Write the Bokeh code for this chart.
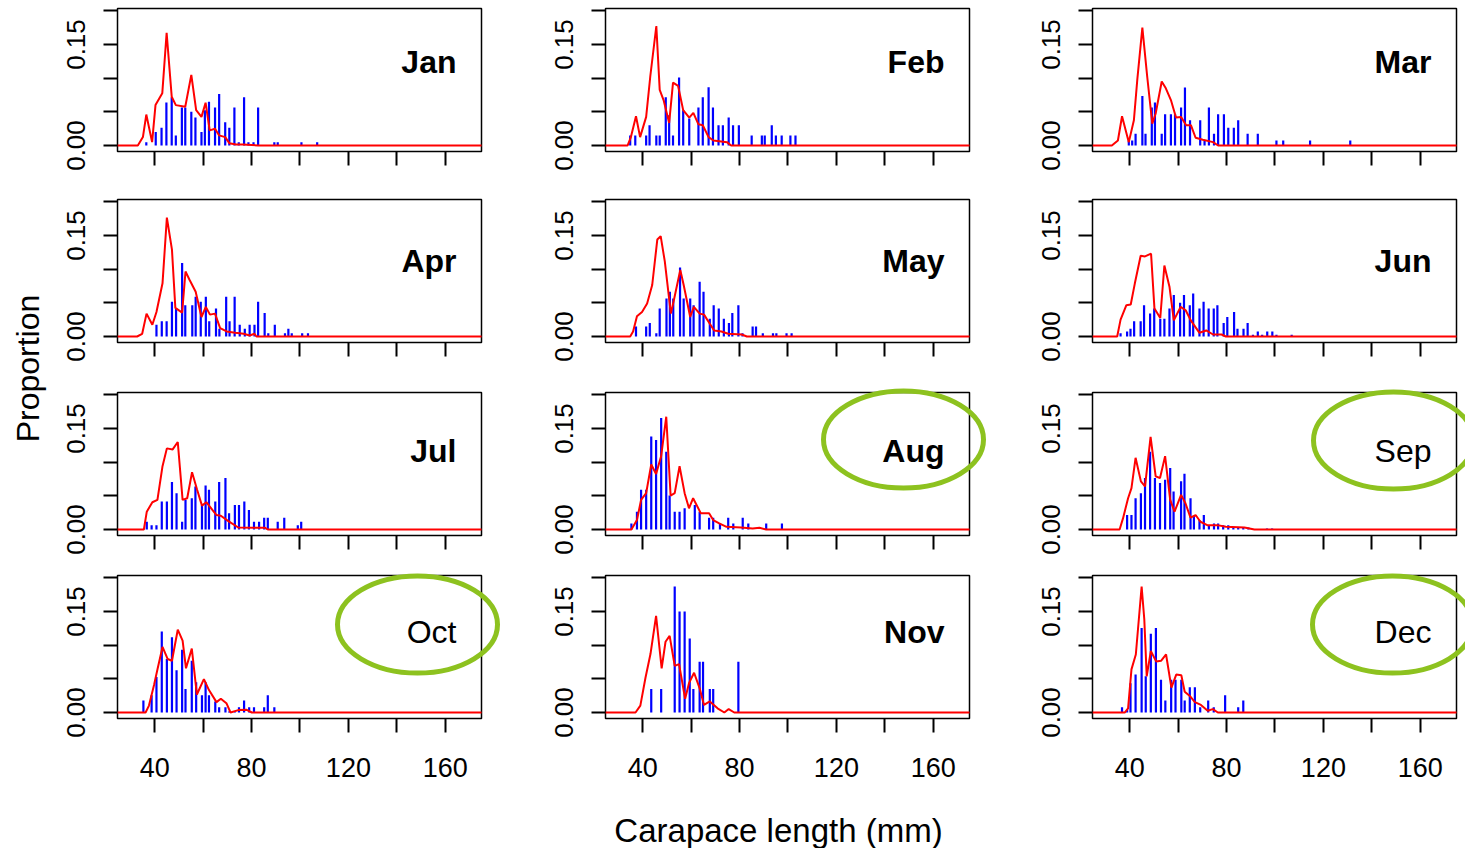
import math
from bokeh.plotting import figure
from bokeh.layouts import row, column
from bokeh.models import Range1d, FixedTicker, Label, PrintfTickFormatter, GridBox
from bokeh.embed import file_html
from bokeh.resources import INLINE

# ---------------- data ----------------
months = ["Jan", "Feb", "Mar", "Apr", "May", "Jun",
          "Jul", "Aug", "Sep", "Oct", "Nov", "Dec"]
x_ticks = [40, 80, 120, 160]
x_minor_ticks = [60, 100, 140]
y_ticks = [0.0, 0.15]
y_minor_ticks = [0.05, 0.10, 0.20]

# highlight ellipses (page position of centre, in pixels)
highlight_months = ["Aug", "Sep", "Oct", "Dec"]
highlight_cx = [903, 1393, 417, 1392]
highlight_cy = [439, 440, 624, 624]

jan_bar_x = [36.5, 40.4, 42.8, 44.8, 47.0, 48.7, 51.2, 52.6, 55.1, 56.8, 59.3, 60.7, 62.4, 64.9, 66.6, 69.1, 70.8, 72.9, 74.7, 76.9, 78.7, 80.8, 82.7, 89.4, 90.8, 100.6, 107.1]
jan_bar_y = [0.005, 0.020, 0.0265, 0.064, 0.0715, 0.015, 0.0565, 0.0565, 0.050, 0.0415, 0.020, 0.0525, 0.065, 0.0565, 0.0765, 0.0345, 0.0265, 0.0565, 0.005, 0.0715, 0.005, 0.005, 0.0565, 0.005, 0.005, 0.005, 0.005]
jan_line_x = [20, 33.0, 35.1, 36.5, 38.9, 40.3, 43.1, 44.9, 47.0, 48.7, 52.6, 55.1, 57.1, 59.3, 61.0, 62.7, 64.9, 66.6, 69.1, 70.8, 73.6, 76.4, 82.7, 180]
jan_line_y = [0, 0, 0.0125, 0.046, 0.005, 0.060, 0.0775, 0.1675, 0.0725, 0.060, 0.0575, 0.105, 0.0525, 0.0425, 0.0635, 0.0225, 0.025, 0.015, 0.0125, 0.0035, 0.0015, 0.0015, 0, 0]

feb_bar_x = [34.8, 36.9, 41.4, 42.8, 45.6, 47.0, 49.5, 50.9, 52.5, 55.0, 56.7, 59.2, 63.0, 64.8, 67.2, 69.0, 71.3, 73.1, 75.5, 77.3, 79.7, 85.0, 89.2, 90.4, 93.3, 95.0, 97.4, 101.0, 103.1]
feb_bar_y = [0.015, 0.015, 0.015, 0.030, 0.015, 0.015, 0.0715, 0.045, 0.015, 0.101, 0.0525, 0.040, 0.0565, 0.0715, 0.0865, 0.0565, 0.030, 0.030, 0.0415, 0.030, 0.030, 0.015, 0.015, 0.015, 0.030, 0.015, 0.015, 0.015, 0.015]
feb_line_x = [20, 33.7, 35.1, 37.2, 38.9, 41.4, 43.1, 45.6, 47.0, 48.6, 50.9, 52.5, 54.6, 56.7, 59.2, 60.9, 63.0, 64.8, 67.2, 69.2, 74.8, 76.5, 180]
feb_line_y = [0, 0, 0.0125, 0.0435, 0.0125, 0.0425, 0.1025, 0.1775, 0.0825, 0.0675, 0.0335, 0.0935, 0.0885, 0.0525, 0.0415, 0.0485, 0.0315, 0.030, 0.0125, 0.0075, 0.005, 0, 0]

mar_bar_x = [39.6, 41.0, 42.4, 45.2, 46.5, 49.1, 50.4, 53.2, 54.6, 57.0, 58.7, 61.2, 62.8, 64.9, 69.1, 70.9, 72.7, 74.8, 76.5, 78.9, 80.7, 83.0, 84.8, 88.7, 92.9, 100.6, 103.4, 114.5, 131.1]
mar_bar_y = [0.0075, 0.0075, 0.0175, 0.0735, 0.0175, 0.0565, 0.064, 0.0175, 0.0465, 0.0465, 0.0465, 0.0565, 0.086, 0.0375, 0.0375, 0.0075, 0.0565, 0.0175, 0.0465, 0.0465, 0.0265, 0.0265, 0.0375, 0.0175, 0.0175, 0.0075, 0.0075, 0.0075, 0.0075]
mar_line_x = [20, 32.6, 35.1, 36.8, 39.6, 41.7, 43.1, 45.2, 47.2, 49.3, 50.7, 53.2, 54.9, 57.0, 59.1, 61.2, 63.3, 65.3, 67.2, 70.2, 74.4, 76.5, 180]
mar_line_y = [0, 0, 0.0075, 0.0435, 0.005, 0.0375, 0.0975, 0.175, 0.1025, 0.0325, 0.0475, 0.095, 0.085, 0.0675, 0.0415, 0.0425, 0.030, 0.030, 0.0115, 0.0085, 0.005, 0, 0]

apr_bar_x = [40.7, 42.9, 44.9, 47.1, 48.8, 51.3, 52.6, 55.5, 56.9, 59.0, 61.1, 62.5, 65.3, 66.7, 69.5, 70.9, 73.0, 75.1, 77.2, 79.2, 81.2, 82.7, 85.4, 86.9, 89.6, 93.8, 95.2, 96.6, 100.9, 103.3]
apr_bar_y = [0.0175, 0.0225, 0.0225, 0.0515, 0.0415, 0.109, 0.0465, 0.0465, 0.059, 0.0515, 0.059, 0.0225, 0.0415, 0.0115, 0.059, 0.0225, 0.059, 0.0175, 0.0115, 0.0175, 0.0175, 0.0515, 0.035, 0.005, 0.0175, 0.005, 0.0115, 0.005, 0.005, 0.005]
apr_line_x = [20, 32.7, 34.8, 36.6, 39.0, 40.7, 43.2, 45.0, 47.1, 48.5, 51.3, 52.7, 54.4, 56.9, 59.3, 61.1, 62.8, 64.9, 67.0, 69.7, 73.2, 76.7, 79.2, 81.2, 82.0, 180]
apr_line_y = [0, 0, 0.004, 0.034, 0.0175, 0.0365, 0.079, 0.1765, 0.129, 0.0425, 0.0355, 0.0965, 0.084, 0.0665, 0.029, 0.044, 0.0325, 0.034, 0.0125, 0.0075, 0.0055, 0.004, 0.0015, 0.004, 0, 0]

may_bar_x = [37.2, 41.4, 42.9, 45.6, 47.0, 49.8, 51.2, 52.6, 55.4, 56.9, 59.6, 61.0, 63.5, 65.1, 67.7, 69.3, 71.4, 73.5, 75.6, 77.0, 79.5, 81.2, 85.4, 86.8, 89.6, 93.8, 95.2, 99.4, 101.5]
may_bar_y = [0.015, 0.015, 0.020, 0.005, 0.0415, 0.0565, 0.0665, 0.0565, 0.1025, 0.0565, 0.0565, 0.0465, 0.0815, 0.0665, 0.0265, 0.0465, 0.0415, 0.0265, 0.020, 0.035, 0.0465, 0.005, 0.015, 0.015, 0.005, 0.005, 0.005, 0.005, 0.005]
may_line_x = [20, 34.8, 36.0, 37.6, 39.7, 41.8, 43.9, 46.0, 47.4, 49.1, 51.6, 53.0, 55.5, 56.9, 59.6, 61.1, 63.5, 65.3, 67.7, 69.5, 72.5, 75.3, 80.9, 83.0, 180]
may_line_y = [0, 0, 0.0075, 0.030, 0.0365, 0.049, 0.0765, 0.144, 0.149, 0.1115, 0.034, 0.0565, 0.099, 0.0765, 0.029, 0.044, 0.034, 0.0325, 0.019, 0.009, 0.0075, 0.004, 0.003, 0, 0]

jun_bar_x = [36.2, 38.9, 40.3, 41.8, 44.5, 45.9, 48.4, 50.1, 52.6, 54.3, 56.4, 58.2, 60.8, 62.4, 64.8, 66.2, 68.8, 70.5, 72.6, 74.7, 76.2, 78.8, 80.3, 83.1, 84.5, 87.0, 88.7, 90.9, 92.9, 94.7, 96.8, 98.9, 100.6, 106.9]
jun_bar_y = [0.005, 0.0075, 0.0115, 0.0225, 0.0225, 0.0465, 0.034, 0.0415, 0.0265, 0.0265, 0.0415, 0.0615, 0.050, 0.0615, 0.0465, 0.064, 0.0415, 0.0515, 0.0415, 0.0415, 0.0465, 0.020, 0.029, 0.0365, 0.0115, 0.0115, 0.020, 0.0025, 0.0075, 0.0025, 0.0075, 0.0075, 0.0025, 0.0025]
jun_line_x = [20, 34.8, 36.2, 38.6, 40.4, 42.1, 44.5, 46.3, 48.8, 50.2, 52.6, 54.3, 56.4, 58.2, 61.0, 63.1, 65.2, 68.8, 71.6, 74.4, 77.9, 79.7, 180]
jun_line_y = [0, 0, 0.025, 0.0465, 0.0475, 0.079, 0.120, 0.119, 0.123, 0.0415, 0.0275, 0.1055, 0.074, 0.024, 0.044, 0.039, 0.024, 0.0055, 0.009, 0.003, 0.003, 0, 0]

jul_bar_x = [36.7, 38.7, 40.7, 42.9, 45.0, 47.1, 49.0, 51.3, 52.7, 55.3, 56.8, 59.5, 61.0, 62.4, 65.0, 66.6, 69.2, 70.7, 73.1, 74.8, 77.0, 78.9, 81.0, 83.1, 85.2, 86.7, 90.8, 93.5, 99.1, 100.5]
jul_bar_y = [0.0115, 0.0065, 0.0065, 0.0415, 0.0415, 0.0705, 0.054, 0.0115, 0.044, 0.0465, 0.064, 0.0365, 0.0655, 0.059, 0.0415, 0.0705, 0.0765, 0.024, 0.0365, 0.0365, 0.0415, 0.029, 0.0115, 0.0115, 0.0175, 0.0175, 0.0115, 0.0175, 0.0065, 0.0115]
jul_line_x = [20, 35.5, 36.7, 39.0, 41.1, 43.2, 45.0, 47.4, 49.5, 51.5, 53.4, 55.4, 57.5, 59.5, 61.3, 65.5, 67.3, 70.4, 74.5, 85.6, 86.7, 180]
jul_line_y = [0, 0, 0.0265, 0.0405, 0.044, 0.094, 0.1205, 0.119, 0.130, 0.044, 0.0465, 0.085, 0.059, 0.0355, 0.0405, 0.0215, 0.0205, 0.0125, 0.003, 0.0025, 0, 0]

aug_bar_x = [35.3, 37.6, 39.3, 41.4, 43.5, 45.5, 47.6, 49.7, 51.1, 53.2, 55.2, 57.3, 61.5, 63.5, 67.4, 69.1, 71.9, 75.3, 77.4, 81.3, 83.6, 91.0, 97.5]
aug_bar_y = [0.009, 0.0265, 0.059, 0.059, 0.138, 0.133, 0.1655, 0.1155, 0.0505, 0.0265, 0.0265, 0.0315, 0.0365, 0.0265, 0.0175, 0.0175, 0.009, 0.0175, 0.009, 0.0175, 0.009, 0.009, 0.009]
aug_line_x = [20, 35.3, 37.6, 39.3, 41.4, 43.5, 45.5, 47.6, 49.7, 51.5, 53.2, 55.2, 57.3, 59.1, 60.8, 64.0, 67.4, 69.1, 71.6, 74.6, 80.6, 85.4, 88.2, 91.0, 180]
aug_line_y = [0, 0, 0.014, 0.044, 0.054, 0.0965, 0.0825, 0.109, 0.1675, 0.0505, 0.054, 0.094, 0.054, 0.0315, 0.0465, 0.024, 0.024, 0.014, 0.009, 0.004, 0.003, 0.0015, 0.0025, 0, 0]

sep_bar_x = [38.9, 40.7, 42.4, 44.6, 46.3, 48.4, 50.4, 52.5, 54.6, 56.7, 58.1, 61.2, 62.6, 65.1, 66.5, 68.8, 70.6, 72.7, 74.8, 76.5, 78.6, 80.7, 82.8, 84.8, 86.9, 89.0, 96.7, 98.8]
sep_bar_y = [0.0215, 0.0215, 0.0465, 0.054, 0.0765, 0.1155, 0.0765, 0.069, 0.074, 0.0915, 0.0565, 0.0715, 0.083, 0.0465, 0.0205, 0.014, 0.0215, 0.0065, 0.009, 0.009, 0.0065, 0.0065, 0.003, 0.003, 0.003, 0.003, 0.0015, 0.0015]
sep_line_x = [20, 35.8, 37.2, 39.3, 40.7, 42.4, 44.6, 46.3, 48.6, 50.7, 52.5, 54.6, 56.7, 58.5, 61.2, 63.0, 65.1, 67.2, 69.2, 72.0, 76.2, 79.7, 87.4, 91.5, 180]
sep_line_y = [0, 0, 0.0165, 0.0465, 0.0615, 0.1065, 0.0715, 0.064, 0.1375, 0.079, 0.0765, 0.109, 0.044, 0.0265, 0.0515, 0.039, 0.0175, 0.0215, 0.0115, 0.0065, 0.0065, 0.004, 0.003, 0, 0]

oct_bar_x = [35.3, 38.7, 40.7, 42.9, 45.0, 47.1, 49.0, 51.3, 52.7, 55.3, 57.1, 59.5, 61.0, 62.4, 65.0, 66.6, 69.2, 70.7, 73.1, 74.8, 76.9, 79.0, 81.0, 85.2, 86.7, 89.4]
oct_bar_y = [0.018, 0.0256, 0.0528, 0.1205, 0.0795, 0.1118, 0.0626, 0.0933, 0.0349, 0.0769, 0.0451, 0.0256, 0.0451, 0.0256, 0.0164, 0.0077, 0.0077, 0.0015, 0.0015, 0.0077, 0.018, 0.0077, 0.0077, 0.0077, 0.0256, 0.0077]
oct_line_x = [20, 36.2, 37.6, 39.7, 41.1, 43.2, 45.3, 47.1, 49.5, 51.5, 52.9, 55.3, 57.4, 60.3, 62.4, 65.5, 67.3, 69.6, 71.3, 74.5, 78.0, 80.1, 180]
oct_line_y = [0, 0, 0.0103, 0.041, 0.064, 0.0974, 0.0795, 0.0769, 0.123, 0.1067, 0.0656, 0.0949, 0.0267, 0.0497, 0.0333, 0.0154, 0.0205, 0.0138, 0, 0.0036, 0.004, 0, 0]

nov_bar_x = [43.5, 47.6, 53.2, 55.2, 57.3, 59.4, 60.9, 63.5, 64.9, 67.7, 69.1, 79.5]
nov_bar_y = [0.0349, 0.0349, 0.187, 0.150, 0.150, 0.110, 0.0349, 0.0754, 0.0754, 0.0349, 0.0349, 0.0754]
nov_line_x = [20, 37.0, 39.0, 41.1, 43.2, 45.5, 47.8, 49.4, 51.1, 53.2, 55.0, 57.5, 59.1, 61.2, 63.5, 65.3, 67.7, 70.9, 73.7, 75.5, 77.8, 180]
nov_line_y = [0, 0, 0.0103, 0.0513, 0.0872, 0.1436, 0.0656, 0.1051, 0.1138, 0.0692, 0.0718, 0.0205, 0.0436, 0.059, 0.0359, 0.0113, 0.0164, 0.0062, 0, 0.0051, 0, 0]

dec_bar_x = [36.8, 38.9, 40.3, 42.4, 44.9, 46.6, 48.7, 50.8, 52.9, 54.7, 57.1, 58.9, 61.3, 62.7, 64.8, 66.9, 69.1, 72.4, 74.7, 79.4, 84.8, 86.9]
dec_bar_y = [0.0077, 0.004, 0.0436, 0.0564, 0.1256, 0.0538, 0.1169, 0.1256, 0.0487, 0.018, 0.0487, 0.0487, 0.0487, 0.018, 0.0374, 0.0374, 0.0077, 0.018, 0.0077, 0.0256, 0.0077, 0.018]
dec_line_x = [20, 37.9, 39.3, 40.7, 42.5, 44.9, 46.0, 47.0, 48.7, 50.9, 53.0, 55.0, 57.2, 59.2, 61.3, 62.7, 64.8, 66.9, 69.4, 72.2, 74.3, 76.4, 180]
dec_line_y = [0, 0, 0.0062, 0.0641, 0.0862, 0.1872, 0.1385, 0.0538, 0.0913, 0.0759, 0.0769, 0.0862, 0.0369, 0.0564, 0.0554, 0.0308, 0.0246, 0.0154, 0.0113, 0.0026, 0.0051, 0, 0]

panel_data = {
    "Jan": (jan_bar_x, jan_bar_y, jan_line_x, jan_line_y),
    "Feb": (feb_bar_x, feb_bar_y, feb_line_x, feb_line_y),
    "Mar": (mar_bar_x, mar_bar_y, mar_line_x, mar_line_y),
    "Apr": (apr_bar_x, apr_bar_y, apr_line_x, apr_line_y),
    "May": (may_bar_x, may_bar_y, may_line_x, may_line_y),
    "Jun": (jun_bar_x, jun_bar_y, jun_line_x, jun_line_y),
    "Jul": (jul_bar_x, jul_bar_y, jul_line_x, jul_line_y),
    "Aug": (aug_bar_x, aug_bar_y, aug_line_x, aug_line_y),
    "Sep": (sep_bar_x, sep_bar_y, sep_line_x, sep_line_y),
    "Oct": (oct_bar_x, oct_bar_y, oct_line_x, oct_line_y),
    "Nov": (nov_bar_x, nov_bar_y, nov_line_x, nov_line_y),
    "Dec": (dec_bar_x, dec_bar_y, dec_line_x, dec_line_y),
}

# ---------------- layout / style ----------------
FONT = "Liberation Sans"
FW, FH = 364, 143
X0, X1 = 24.6, 175.0
Y0, Y1 = -0.0089, 0.2035
LEFT_W = 50
MB_LEFT = 67
MB_RIGHT = [57, 56, 9]
MB_TOP = [8, 10, 10, 10]
MB_BOTTOM = [38, 40, 30, 72]
LABEL_DOWN = [53, 61, 58, 56]   # px from frame top to the month label centre
GREEN = "#8dc21f"
normal_weight = ["Sep", "Oct", "Dec"]

px_per_mm = FW / (X1 - X0)
px_per_unit = FH / (Y1 - Y0)


def style_ticks(ax):
    ax.axis_line_color = None
    for pre in ("major", "minor"):
        setattr(ax, pre + "_tick_in", 0)
        setattr(ax, pre + "_tick_out", 14)
        setattr(ax, pre + "_tick_line_width", 2)
        setattr(ax, pre + "_tick_line_color", "black")


def make_panel(name, ci, ri):
    bx, by, lx, ly = panel_data[name]
    w = MB_LEFT + FW + MB_RIGHT[ci]
    h = MB_TOP[ri] + FH + MB_BOTTOM[ri]
    p = figure(width=w, height=h, x_range=Range1d(X0, X1), y_range=Range1d(Y0, Y1),
               output_backend="svg", toolbar_location=None,
               min_border_left=MB_LEFT, min_border_right=MB_RIGHT[ci],
               min_border_top=MB_TOP[ri], min_border_bottom=MB_BOTTOM[ri])
    p.xgrid.visible = False
    p.ygrid.visible = False
    p.outline_line_color = "black"
    p.outline_line_width = 1.5
    p.outline_line_alpha = 1.0

    p.segment(x0=bx, y0=[0] * len(bx), x1=bx, y1=by, line_color="#0000ff", line_width=2.2)
    p.line(lx, ly, line_color="#ff0000", line_width=2)

    xa = p.xaxis[0]
    style_ticks(xa)
    if ri == 3:
        xa.ticker = FixedTicker(ticks=x_ticks, minor_ticks=x_minor_ticks)
        xa.major_label_text_font = FONT
        xa.major_label_text_font_size = "27px"
        xa.major_label_standoff = 25
        xa.major_label_text_color = "black"
    else:
        xa.ticker = FixedTicker(ticks=[], minor_ticks=sorted(x_ticks + x_minor_ticks))

    ya = p.yaxis[0]
    style_ticks(ya)
    ya.ticker = FixedTicker(ticks=y_ticks, minor_ticks=y_minor_ticks)
    ya.formatter = PrintfTickFormatter(format="%.2f")
    ya.major_label_orientation = "vertical"
    ya.major_label_text_font = FONT
    ya.major_label_text_font_size = "26px"
    ya.major_label_standoff = 18
    ya.major_label_text_color = "black"

    label_x = X1 - 25 / px_per_mm
    label_y = Y1 - LABEL_DOWN[ri] / px_per_unit
    p.add_layout(Label(x=label_x, y=label_y, text=name, text_align="right",
                       text_baseline="middle", text_font=FONT, text_font_size="32px",
                       text_font_style="normal" if name in normal_weight else "bold",
                       text_color="black"))
    return p


rows = []
for ri in range(4):
    figs = [make_panel(months[ri * 3 + ci], ci, ri) for ci in range(3)]
    rows.append(row(*figs))

grid_h = sum(MB_TOP[i] + FH + MB_BOTTOM[i] for i in range(4))
col_w = sum(MB_LEFT + FW + MB_RIGHT[i] for i in range(3))
BOTTOM_H = 58
TOTAL_W = LEFT_W + col_w
TOTAL_H = grid_h + BOTTOM_H


def blank(w, h, xr, yr):
    f = figure(width=w, height=h, x_range=xr, y_range=yr,
               output_backend="svg", toolbar_location=None, min_border=0,
               x_axis_location=None, y_axis_location=None)
    f.xgrid.visible = False
    f.ygrid.visible = False
    f.outline_line_color = None
    return f


left = blank(LEFT_W, grid_h, Range1d(0, LEFT_W), Range1d(0, grid_h))
left.add_layout(Label(x=27, y=grid_h - 368, text="Proportion", angle=math.pi / 2,
                      text_align="center", text_baseline="middle", text_font=FONT,
                      text_font_size="32px", text_color="black"))

bottom = blank(col_w, BOTTOM_H, Range1d(0, col_w), Range1d(0, BOTTOM_H))
bottom.add_layout(Label(x=778 - LEFT_W, y=BOTTOM_H - (830 - grid_h), text="Carapace length (mm)",
                        text_align="center", text_baseline="middle", text_font=FONT,
                        text_font_size="33px", text_color="black"))

main = row(left, column(*rows, bottom))

# transparent overlay for the green highlight ellipses (page pixel space)
overlay = blank(TOTAL_W, TOTAL_H, Range1d(0, TOTAL_W), Range1d(TOTAL_H, 0))
overlay.background_fill_color = None
overlay.border_fill_color = None
overlay.ellipse(x=highlight_cx, y=highlight_cy, width=160, height=97,
                fill_color=None, line_color=GREEN, line_width=5)

layout = GridBox(children=[(main, 0, 0), (overlay, 0, 0)])

open("out.html", "w").write(file_html(layout, INLINE))
